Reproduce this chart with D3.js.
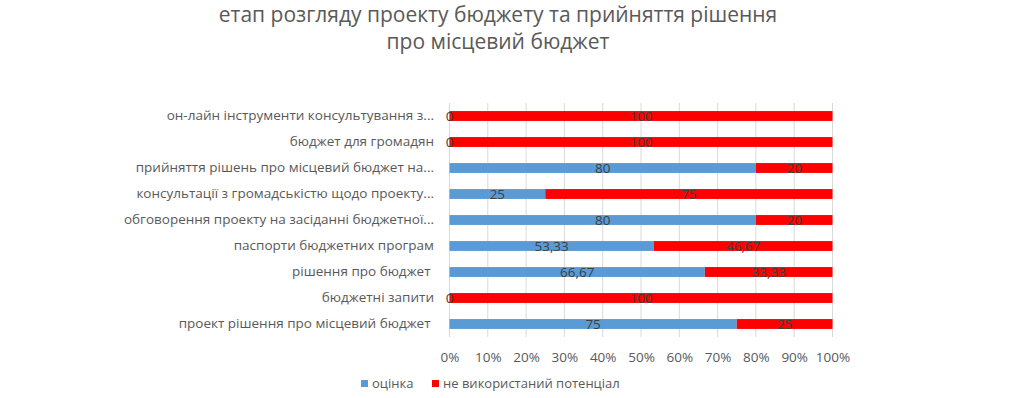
<!DOCTYPE html>
<html><head><meta charset="utf-8">
<script src="https://cdn.jsdelivr.net/npm/d3@7"></script>
<style>body{margin:0;background:#fff}svg{display:block}text{font-family:"Open Sans","Liberation Sans",sans-serif;white-space:pre}</style>
</head><body><svg id="c" width="1024" height="398"></svg>
<script>
const categories = [
  "он-лайн інструменти консультування з...",
  "бюджет для громадян",
  "прийняття рішень про місцевий бюджет на...",
  "консультації з громадськістю щодо проекту...",
  "обговорення проекту на засіданні бюджетної...",
  "паспорти бюджетних програм",
  "рішення про бюджет ",
  "бюджетні запити",
  "проект рішення про місцевий бюджет "
];
const ocinka = [0, 0, 80, 25, 80, 53.33, 66.67, 0, 75];
const potential = [100, 100, 20, 75, 20, 46.67, 33.33, 100, 25];
const seriesNames = ["оцінка", "не використаний потенціал"];
const tickLabels = ["0%","10%","20%","30%","40%","50%","60%","70%","80%","90%","100%"];
const titleLines = ["етап розгляду проекту бюджету та прийняття рішення", "про місцевий бюджет"];

const colors = ["#5B9BD5", "#FF0000"];
const svg = d3.select("#c");
const x = d3.scaleLinear().domain([0, 1]).range([449.5, 832.5]);
const y = d3.scaleBand().domain(categories).range([103, 337]).paddingInner(0.62).paddingOuter(0.31);

// title
svg.selectAll("text.title").data(titleLines).join("text").attr("class","title")
  .attr("x", 498).attr("y", (d,i)=> 22 + i*27).attr("text-anchor","middle")
  .attr("font-size", 21).attr("fill", "#595959").text(d=>d);

// gridlines
svg.append("g").selectAll("line").data(d3.range(0, 1.0001, 0.1)).join("line")
  .attr("x1", d=>x(d)).attr("x2", d=>x(d)).attr("y1", 103).attr("y2", 337)
  .attr("stroke", "#D9D9D9").attr("stroke-width", 1);

// x axis labels
const xAxis = d3.axisBottom(x).tickValues(d3.range(0, 1.0001, 0.1)).tickFormat((d,i)=>tickLabels[i]).tickSize(0).tickPadding(0);
const gx = svg.append("g").attr("transform", "translate(0,352)").call(xAxis);
gx.select(".domain").remove();
gx.selectAll("text").attr("font-size", 13.5).attr("fill", "#595959").attr("font-family","Open Sans");

// y axis labels
const yAxis = d3.axisLeft(y).tickSize(0).tickPadding(0);
const gy = svg.append("g").attr("transform", "translate(" + 434 + ",0)").call(yAxis);
gy.select(".domain").remove();
gy.selectAll("text").attr("font-size", 13.5).attr("fill", "#595959").attr("font-family","Open Sans").attr("x", 0);

// stacked
const rows = categories.map((c,i)=>({cat:c, a:ocinka[i]/100, b:potential[i]/100, la:ocinka[i], lb:potential[i]}));
const stack = d3.stack().keys(["a","b"]);
const series = stack(rows);
const fmt = v => String(v).replace(".", ",");
series.forEach((s, si) => {
  const g = svg.append("g");
  g.selectAll("rect").data(s).join("rect")
    .attr("x", d=>x(d[0])).attr("width", d=>Math.max(0, x(d[1]) - x(d[0])))
    .attr("y", d=>y(d.data.cat)).attr("height", y.bandwidth())
    .attr("fill", colors[si]);
});
series.forEach((s, si) => {
  const key = si===0 ? "la" : "lb";
  svg.append("g").selectAll("text").data(s).join("text")
    .attr("x", d=>x((d[0]+d[1])/2)).attr("y", d=>y(d.data.cat) + y.bandwidth()/2)
    .attr("dy", "0.36em").attr("text-anchor", "middle")
    .attr("font-size", 13.5).attr("fill", "#404040")
    .text(d=>fmt(d.data[key]));
});

// legend
const leg = svg.append("g");
const legX = [361, 432];
seriesNames.forEach((n, i) => {
  leg.append("rect").attr("x", legX[i]).attr("y", 380).attr("width", 7).attr("height", 7).attr("fill", colors[i]);
  leg.append("text").attr("x", legX[i] + 11).attr("y", 388).attr("font-size", 13).attr("fill", "#595959").text(n);
});
</script></body></html>
